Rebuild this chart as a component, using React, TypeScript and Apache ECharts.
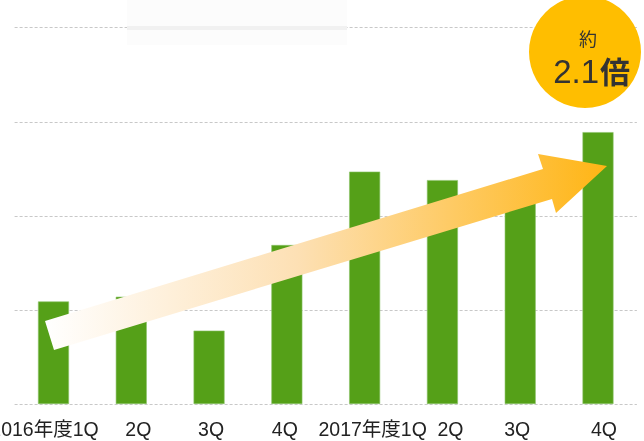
import React, { useEffect, useRef } from "react";
import * as echarts from "echarts";

const categories = ["2016年度1Q", "2Q", "3Q", "4Q", "2017年度1Q", "2Q", "3Q", "4Q"];
const values = [109, 114, 78, 169, 247, 238, 225, 289];
const labelShift = [-9, 7, 2, -2, 8, 8, -3, 6];
const badgeTop = "約";
const badgeNum = "2.1";
const badgeUnit = "倍";

export default function App() {
  const ref = useRef<HTMLDivElement>(null);
  useEffect(() => {
    if (!ref.current) return;
    const chart = echarts.init(ref.current, null, { renderer: "svg" });
    const font = "'Liberation Sans', 'Noto Sans CJK JP', sans-serif";
    const catData = categories.map((c, i) => {
      const d = labelShift[i];
      return {
        value: c,
        textStyle: { padding: d >= 0 ? [0, 0, 0, 2 * d] : [0, -2 * d, 0, 0] },
      };
    });
    chart.setOption({
      animation: false,
      grid: { left: 14.6, right: 7.1, top: 27.7, bottom: 37, outerBoundsMode: "none", containLabel: false },
      xAxis: {
        type: "category",
        data: catData,
        axisLine: { show: false },
        axisTick: { show: false },
        axisLabel: { interval: 0, fontSize: 19.5, color: "#222", margin: 15, fontFamily: font },
      },
      yAxis: {
        type: "value",
        min: 0,
        max: 400,
        interval: 100,
        axisLabel: { show: false },
        axisLine: { show: false },
        axisTick: { show: false },
        splitLine: { lineStyle: { type: [3, 2], color: "#c8c8c8", width: 1 } },
      },
      series: [
        {
          type: "bar",
          data: values,
          barWidth: 31,
          itemStyle: { color: "#55a018", borderColor: "#8cc26a", borderWidth: 0.6 },
        },
      ],
      graphic: [
        {
          type: "rect",
          z: 50,
          shape: { x: 127, y: 0, width: 220, height: 45 },
          style: { fill: "#fcfcfc" },
        },
        {
          type: "rect",
          z: 51,
          shape: { x: 127, y: 26, width: 220, height: 4 },
          style: { fill: "#f1f1f1" },
        },
        {
          type: "polygon",
          z: 100,
          shape: {
            points: [
              [45, 321],
              [543, 169],
              [538, 154],
              [607, 166],
              [556, 213],
              [552, 199],
              [54, 350],
            ],
          },
          style: {
            fill: new echarts.graphic.LinearGradient(0, 0, 1, 0, [
              { offset: 0, color: "#ffffff" },
              { offset: 0.45, color: "#fde0b4" },
              { offset: 1, color: "#ffb514" },
            ]),
          },
        },
        {
          type: "circle",
          z: 100,
          shape: { cx: 585, cy: 52, r: 56 },
          style: { fill: "#ffbe00" },
        },
        {
          type: "text",
          z: 101,
          x: 588,
          y: 38,
          style: {
            text: badgeTop,
            fontSize: 18,
            fill: "#333",
            align: "center",
            verticalAlign: "middle",
            fontFamily: "'Noto Sans CJK JP', sans-serif",
          },
        },
        {
          type: "text",
          z: 101,
          x: 599,
          y: 71,
          style: {
            text: badgeNum,
            fontSize: 33,
            fill: "#333",
            align: "right",
            verticalAlign: "middle",
            fontFamily: "'Liberation Sans', sans-serif",
          },
        },
        {
          type: "text",
          z: 101,
          x: 615,
          y: 70,
          style: {
            text: badgeUnit,
            fontSize: 30,
            fontWeight: "bold",
            fill: "#333",
            align: "center",
            verticalAlign: "middle",
            fontFamily: "'Noto Sans CJK JP', sans-serif",
          },
        },
      ],
    });
    return () => chart.dispose();
  }, []);
  return <div ref={ref} style={{ width: 644, height: 441, position: "fixed", left: 0, top: 0 }} />;
}
